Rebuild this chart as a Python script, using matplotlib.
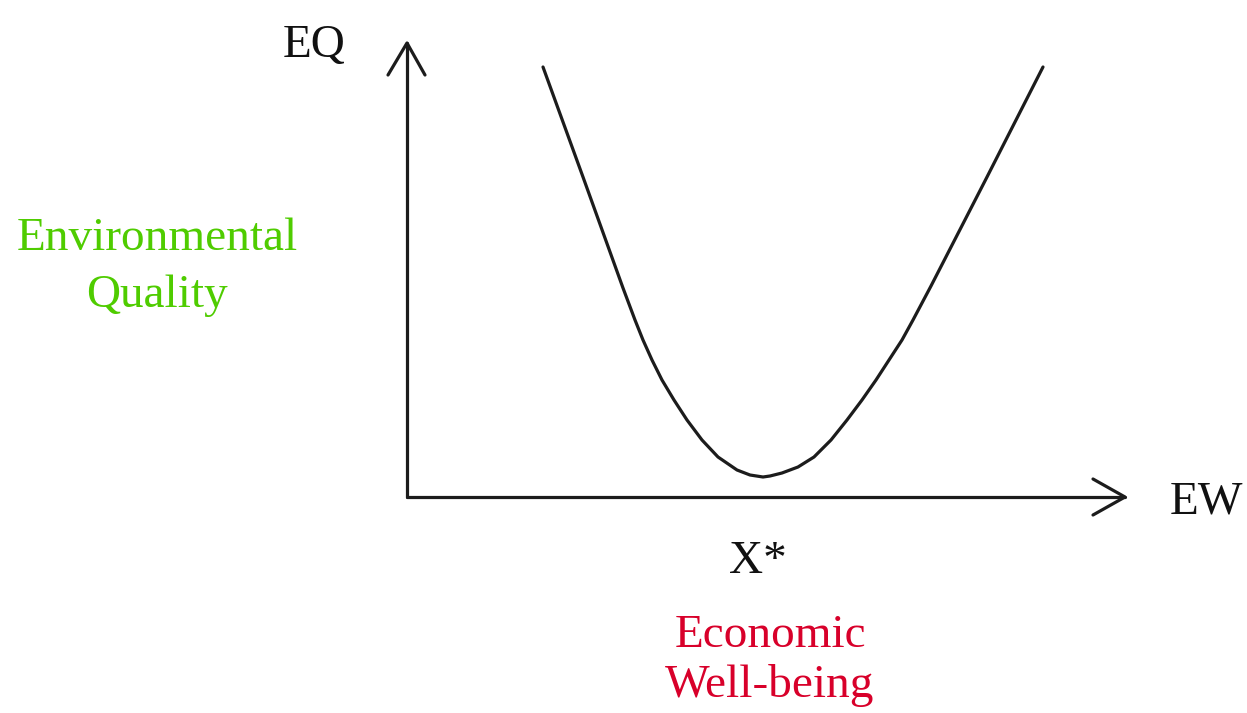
import matplotlib
matplotlib.use("Agg")
import matplotlib.pyplot as plt

# Curve data: Economic Well-being (EW) vs Environmental Quality (EQ), in chart units
curve_ew = [136, 176, 216, 228, 236, 245, 255, 267, 280, 295, 311, 330, 343, 356,
            363, 375, 391, 407, 424, 440, 455, 469, 482, 495, 506, 524, 580, 636]
curve_eq = [430, 320, 209, 177, 157, 137, 117, 97, 77, 57, 40, 27, 22, 20,
            21, 24, 30, 40, 57, 77, 97, 117, 137, 157, 177, 211, 320, 430]

# Labels
x_axis_label = "EW"
y_axis_label = "EQ"
x_star_label = "X*"
x_star_pos = 351
green_label = "Environmental\nQuality"
red_label = "Economic\nWell-being"

AX_X_END = 718
AX_Y_END = 454

fig = plt.figure(figsize=(12.47, 7.13), dpi=100)
ax = fig.add_axes([0, 0, 1, 1])
ax.set_xlim(-407, 840)
ax.set_ylim(-216, 497)
ax.axis("off")

lc = "#1c1c1c"
lw = 2.3
kw = dict(color=lc, lw=lw, solid_capstyle="round", solid_joinstyle="round")

# axes lines
ax.plot([0, 0], [0, AX_Y_END], **kw)
ax.plot([0, AX_X_END], [0, 0], **kw)
# open arrowheads
ax.plot([-19, 0, 18], [AX_Y_END - 32, AX_Y_END, AX_Y_END - 32], **kw)
ax.plot([AX_X_END - 32, AX_X_END, AX_X_END - 32], [18, 0, -18], **kw)

# curve
ax.plot(curve_ew, curve_eq, **kw)

font = "Liberation Serif"
fs = 34
ax.text(-124, 440, y_axis_label, fontsize=fs, family=font, color="#111111",
        ha="left", va="baseline")
ax.text(763, -16, x_axis_label, fontsize=fs, family=font, color="#111111",
        ha="left", va="baseline")
ax.text(x_star_pos, -76, x_star_label, fontsize=fs, family=font, color="#111111",
        ha="center", va="baseline")

g_lines = green_label.split("\n")
ax.text(-250, 247, g_lines[0], fontsize=fs, family=font, color="#4fcc00",
        ha="center", va="baseline")
ax.text(-250, 190, g_lines[1], fontsize=fs, family=font, color="#4fcc00",
        ha="center", va="baseline")

r_lines = red_label.split("\n")
ax.text(363, -150, r_lines[0], fontsize=fs, family=font, color="#d8002a",
        ha="center", va="baseline")
ax.text(363, -200, r_lines[1], fontsize=fs, family=font, color="#d8002a",
        ha="center", va="baseline")

fig.savefig("out.png", dpi=100, facecolor="white")
